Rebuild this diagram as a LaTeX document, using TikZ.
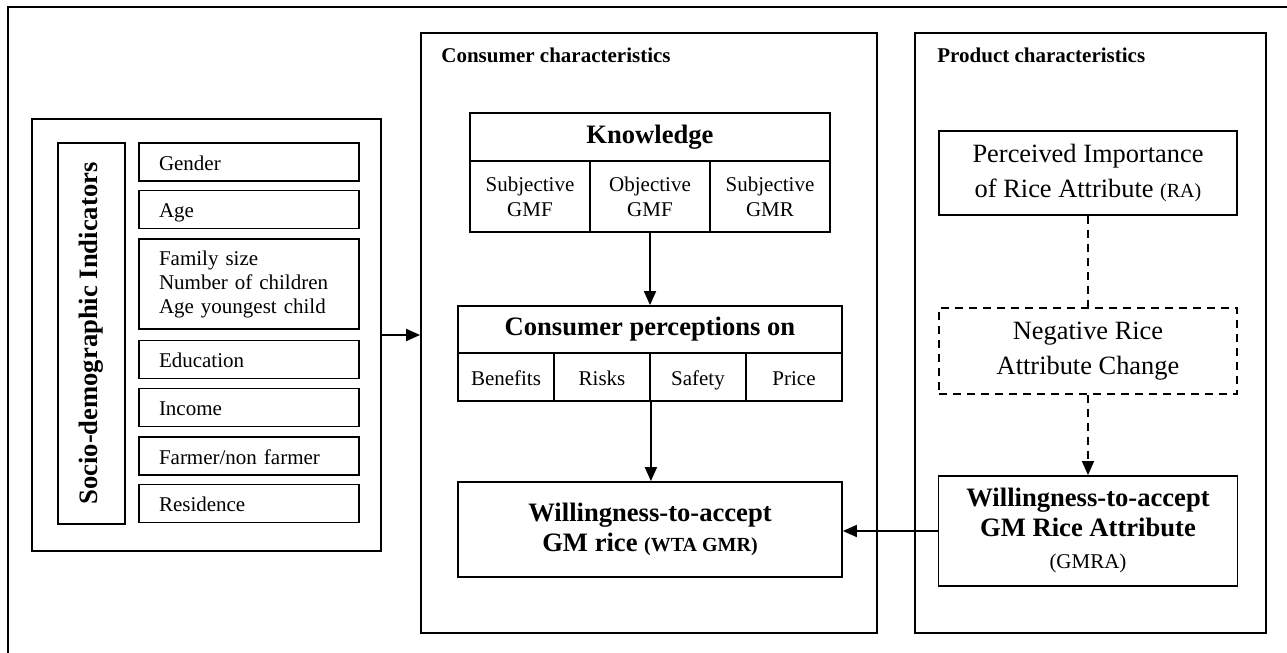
\documentclass[tikz,border=0pt]{standalone}
\usepackage{fontspec}
\setmainfont{Liberation Serif}
\usetikzlibrary{arrows.meta}

\begin{document}
\begin{tikzpicture}[x=0.5pt, y=-0.5pt,
  box/.style = {draw, line width=0.9pt, inner sep=0pt, align=center},
  item/.style = {box, minimum width=110pt, minimum height=19pt,
    text width=90pt, inner xsep=10pt, align=left,
    font=\fontsize{10.5}{12}\selectfont},
  head/.style = {box, font=\fontsize{13.3}{15}\selectfont\bfseries},
  cell/.style = {box, font=\fontsize{10.5}{12.5}\selectfont},
  one line/.style = {text height=8.5pt, text depth=0.5pt},
  plain/.style = {box, font=\fontsize{13.2}{17.5}\selectfont},
  title/.style = {anchor=west, inner sep=0pt,
    font=\fontsize{10.5}{12}\selectfont\bfseries},
  dash line/.style = {line width=0.8pt, dash pattern=on 4pt off 3pt},
  link/.style = {line width=0.9pt, -{Triangle[length=7pt,width=6pt]}}]
  \useasboundingbox (0,0) rectangle (1287,653);
  % outer frame (runs off the right and bottom)
  \draw[line width=1pt] (8,653) -- (8,7) -- (1287,7);

  % socio-demographic block
  \node[box, minimum width=174.5pt, minimum height=216pt] (socio) at (206.5,335) {};
  \node[box, minimum width=33.5pt, minimum height=190.5pt] (ind) at (91.5,333.5) {};
  \node[rotate=90, font=\fontsize{13.3}{15}\selectfont\bfseries] (indtext) at (ind)
    {Socio-demographic Indicators};
  \node[item, one line] (gender) at (249,162) {Gender};
  \node[item, one line] (age) at (249,209.5) {Age};
  \node[item, minimum height=45pt] (family) at (249,284)
    {Family size\\Number of children\\Age youngest child};
  \node[item, one line] (educ) at (249,359.5) {Education};
  \node[item, one line] (income) at (249,407.5) {Income};
  \node[item, one line] (farmer) at (249,456) {Farmer/non farmer};
  \node[item, one line] (resid) at (249,503.5) {Residence};

  % consumer characteristics
  \node[box, minimum width=228pt, minimum height=300pt] (cons) at (649,333) {};
  \node[title] (constitle) at (441,55) {Consumer characteristics};
  \node[head, minimum width=180pt, minimum height=24pt] (know) at (650,137) {Knowledge};
  \node[cell, minimum width=60pt, minimum height=35.5pt] (subgmf) at (530,196.5)
    {Subjective\\GMF};
  \node[cell, minimum width=60pt, minimum height=35.5pt] (objgmf) at (650,196.5)
    {Objective\\GMF};
  \node[cell, minimum width=60pt, minimum height=35.5pt] (subgmr) at (770,196.5)
    {Subjective\\GMR};
  \node[head, minimum width=192pt, minimum height=23.5pt] (perc) at (650,329.5)
    {Consumer perceptions on};
  \node[cell, one line, minimum width=48pt, minimum height=24pt] (benef) at (506,377) {Benefits};
  \node[cell, one line, minimum width=48pt, minimum height=24pt] (risks) at (602,377) {Risks};
  \node[cell, one line, minimum width=48pt, minimum height=24pt] (safety) at (698,377) {Safety};
  \node[cell, one line, minimum width=48pt, minimum height=24pt] (price) at (794,377) {Price};
  \node[head, minimum width=192pt, minimum height=47.5pt] (wta) at (650,529.5)
    {Willingness-to-accept\\GM rice {\fontsize{10}{12}\selectfont (WTA GMR)}};

  % product characteristics
  \node[box, minimum width=175.5pt, minimum height=300pt] (prod) at (1090.5,333) {};
  \node[title] (prodtitle) at (937,55) {Product characteristics};
  \node[plain, minimum width=149pt, minimum height=42pt] (imp) at (1088,173)
    {Perceived Importance\\of Rice Attribute {\fontsize{10}{12}\selectfont (RA)}};
  \node[plain, dash line, minimum width=149pt, minimum height=43pt] (neg) at (1088,351)
    {Negative Rice\\Attribute Change};
  \node[head, minimum width=149.5pt, minimum height=55pt] (gmra) at (1088,531)
    {Willingness-to-accept\\GM Rice Attribute\\[1pt]{\normalfont\fontsize{10.5}{12}\selectfont (GMRA)}};

  % connectors
  \draw[link] (socio.east) -- (socio.east -| cons.west);
  \draw[link] (objgmf.south) -- (perc.north);
  \draw[link] (risks.south east) -- (risks.south east |- wta.north);
  \draw[dash line] (imp.south) -- (neg.north);
  \draw[link, dash line] (neg.south) -- (gmra.north);
  \draw[link] (gmra.west) -- (gmra.west -| wta.east);
\end{tikzpicture}
\end{document}
